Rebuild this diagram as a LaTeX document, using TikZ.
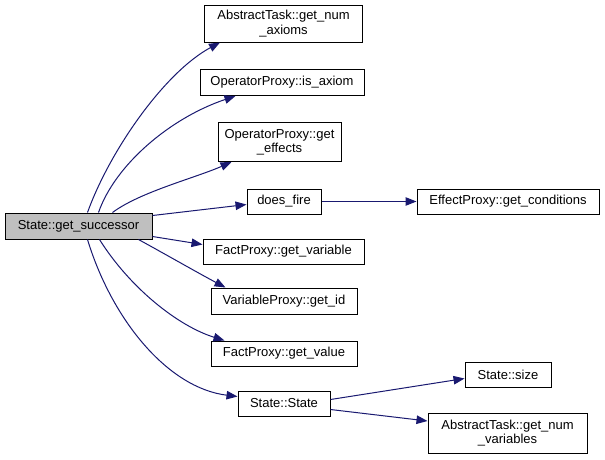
\documentclass[tikz,border=0pt]{standalone}
\usepackage{fontspec}
\setmainfont{Liberation Sans}
\usetikzlibrary{arrows.meta}
\definecolor{edgecol}{HTML}{191970}
\definecolor{rootfill}{HTML}{BFBFBF}
\tikzset{
  fn/.style={draw=black, line width=1pt, fill=white, inner sep=0pt, align=center,
    font=\fontsize{13}{14.5}\selectfont},
  root/.style={fn, fill=rootfill},
  edge/.style={draw=edgecol, line width=1pt, -{Triangle[length=11pt,width=8.5pt]}},
}
\begin{document}
\begin{tikzpicture}[x=1pt,y=-1pt]
\useasboundingbox (0,0) rectangle (605,459);
\node[root, minimum width=147pt, minimum height=26pt] (gs) at (78.5,226) {State::get\_successor};
\node[fn, minimum width=158pt, minimum height=37pt] (ana) at (283.5,23.5) {AbstractTask::get\_num\\\_axioms};
\node[fn, minimum width=164pt, minimum height=26pt] (isax) at (282,82.5) {OperatorProxy::is\_axiom};
\node[fn, minimum width=123pt, minimum height=39pt] (gef) at (279.5,142) {OperatorProxy::get\\\_effects};
\node[fn, minimum width=74pt, minimum height=25pt] (df) at (284,201.5) {does\_fire};
\node[fn, minimum width=182pt, minimum height=25pt] (gc) at (508,201.5) {EffectProxy::get\_conditions};
\node[fn, minimum width=161pt, minimum height=25pt] (gvar) at (283.5,251.5) {FactProxy::get\_variable};
\node[fn, minimum width=146pt, minimum height=26pt] (gid) at (284,301) {VariableProxy::get\_id};
\node[fn, minimum width=146pt, minimum height=25pt] (gval) at (284,353.5) {FactProxy::get\_value};
\node[fn, minimum width=92pt, minimum height=25pt] (ss) at (284,403.5) {State::State};
\node[fn, minimum width=86pt, minimum height=25pt] (sz) at (508,374.5) {State::size};
\node[fn, minimum width=159pt, minimum height=40pt] (anv) at (507.5,433) {AbstractTask::get\_num\\\_variables};

\draw[edge] ([xshift=83pt]gs.north west) .. controls (110,150) and (165,72) .. ([xshift=16pt]ana.south west);
\draw[edge] ([xshift=94pt]gs.north west) .. controls (115,165) and (170,118) .. ([xshift=36pt]isax.south west);
\draw[edge] ([xshift=108pt]gs.north west) .. controls (140,192) and (195,178) .. ([xshift=14pt]gef.south west);
\draw[edge] ([yshift=-3pt]gs.north east) -- ([yshift=-3pt]df.west);
\draw[edge] ([yshift=3pt]gs.south east) -- ([yshift=-6pt]gvar.north west);
\draw[edge] ([xshift=-14pt]gs.south east) .. controls (165,254) and (200,274) .. ([xshift=15pt]gid.north west);
\draw[edge] ([xshift=95pt]gs.south west) .. controls (130,288) and (178,326) .. ([xshift=14pt]gval.north west);
\draw[edge] ([xshift=83pt]gs.south west) .. controls (112,320) and (168,388) .. ([yshift=-6pt]ss.north west);
\draw[edge] (df) -- (gc);
\draw[edge] ([yshift=4pt]ss.east) -- ([yshift=-4pt]sz.west);
\draw[edge] ([yshift=-6pt]ss.east) -- ([yshift=12pt]anv.west);
\end{tikzpicture}
\end{document}
